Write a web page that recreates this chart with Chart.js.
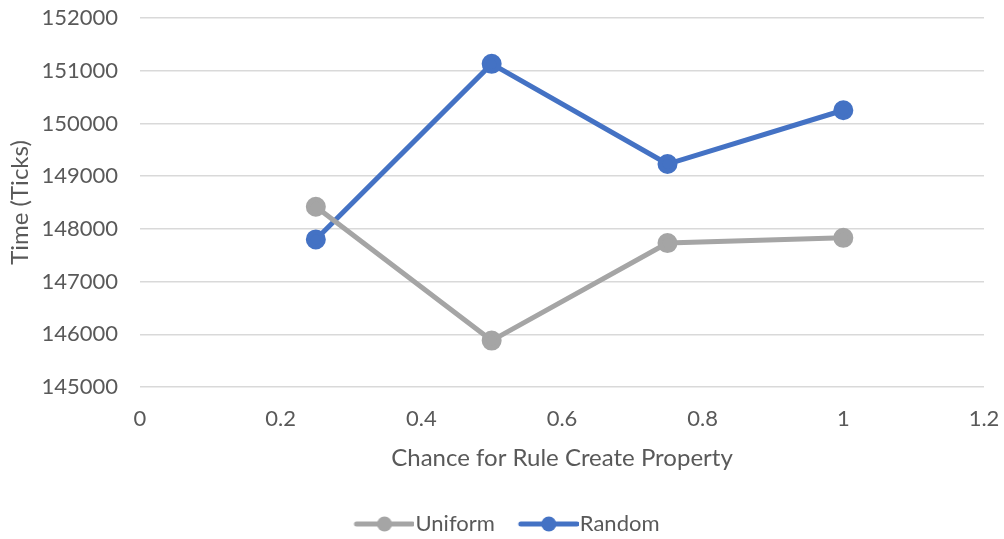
<!DOCTYPE html>
<html lang="en">
<head>
  <meta charset="UTF-8">
  <title>Chance for Rule Create Property</title>
  <script src="https://cdn.jsdelivr.net/npm/chart.js"></script>
  <style>
    html, body { margin: 0; padding: 0; background: #fff; }
    #wrap { width: 1004px; height: 539px; }
  </style>
</head>
<body>
  <div id="wrap"><canvas id="chart" width="1004" height="539"></canvas></div>

  <script>
    // data
    const chances = [0.25, 0.5, 0.75, 1];
    const uniform = [148420, 145880, 147730, 147830];
    const random  = [147800, 151130, 149230, 150250];

    const GRAY = '#A5A5A5';
    const BLUE = '#4472C4';
    const TEXT = '#595959';
    const FONT = 'Lato, "Open Sans", sans-serif';

    // legend marker: short line with a dot, pushed right so it sits close to the text
    function legendMarker(color) {
      const c = document.createElement('canvas');
      c.width = 80; c.height = 18;
      const g = c.getContext('2d');
      g.strokeStyle = color; g.lineWidth = 5; g.lineCap = 'round';
      g.beginPath(); g.moveTo(22, 9); g.lineTo(78, 9); g.stroke();
      g.fillStyle = color;
      g.beginPath(); g.arc(50, 9, 7.5, 0, Math.PI * 2); g.fill();
      return c;
    }

    const toPoints = (ys) => chances.map((x, i) => ({ x: x, y: ys[i] }));

    new Chart(document.getElementById('chart').getContext('2d'), {
      type: 'line',
      data: {
        datasets: [
          { label: 'Uniform', data: toPoints(uniform), borderColor: GRAY, backgroundColor: GRAY,
            borderWidth: 5, pointRadius: 7.5, pointHoverRadius: 7.5, pointStyle: 'circle', tension: 0 },
          { label: 'Random', data: toPoints(random), borderColor: BLUE, backgroundColor: BLUE,
            borderWidth: 5, pointRadius: 7.5, pointHoverRadius: 7.5, pointStyle: 'circle', tension: 0 }
        ]
      },
      options: {
        responsive: false,
        animation: false,
        layout: { padding: { top: 18, right: 0, left: 0, bottom: -6 } },
        plugins: {
          tooltip: { enabled: false },
          legend: {
            position: 'bottom',
            labels: {
              color: TEXT,
              font: { family: FONT, size: 22 },
              padding: 14,
              usePointStyle: true,
              pointStyleWidth: 60,
              generateLabels: (chart) => chart.data.datasets.map((ds, i) => ({
                text: ds.label,
                fontColor: TEXT,
                pointStyle: legendMarker(ds.borderColor),
                datasetIndex: i,
                lineWidth: 0,
                strokeStyle: 'transparent',
                fillStyle: 'transparent'
              }))
            }
          }
        },
        scales: {
          x: {
            type: 'linear',
            min: 0, max: 1.2,
            ticks: { stepSize: 0.2, color: TEXT, font: { family: FONT, size: 22 }, padding: 19,
                     callback: (v) => String(Math.round(v * 10) / 10) },
            grid: { display: false, drawTicks: false },
            border: { display: false },
            title: { display: true, text: 'Chance for Rule Create Property', color: TEXT,
                     font: { family: FONT, size: 24 }, padding: { top: 0, bottom: 26 } },
            afterFit: (s) => { s.height = 112; s.paddingLeft = 0; s.paddingRight = 20; }
          },
          y: {
            min: 145000, max: 152000,
            ticks: { stepSize: 1000, color: TEXT, font: { family: FONT, size: 22 }, padding: 22,
                     callback: (v) => String(v) },
            grid: { color: '#D9D9D9', lineWidth: 1.5, drawTicks: false },
            border: { display: false },
            title: { display: true, text: 'Time (Ticks)', color: TEXT,
                     font: { family: FONT, size: 24 }, padding: { top: 6, bottom: 0 } },
            afterFit: (s) => { s.width = 140; s.paddingTop = 0; s.paddingBottom = 0; }
          }
        }
      }
    });
  </script>
</body>
</html>
